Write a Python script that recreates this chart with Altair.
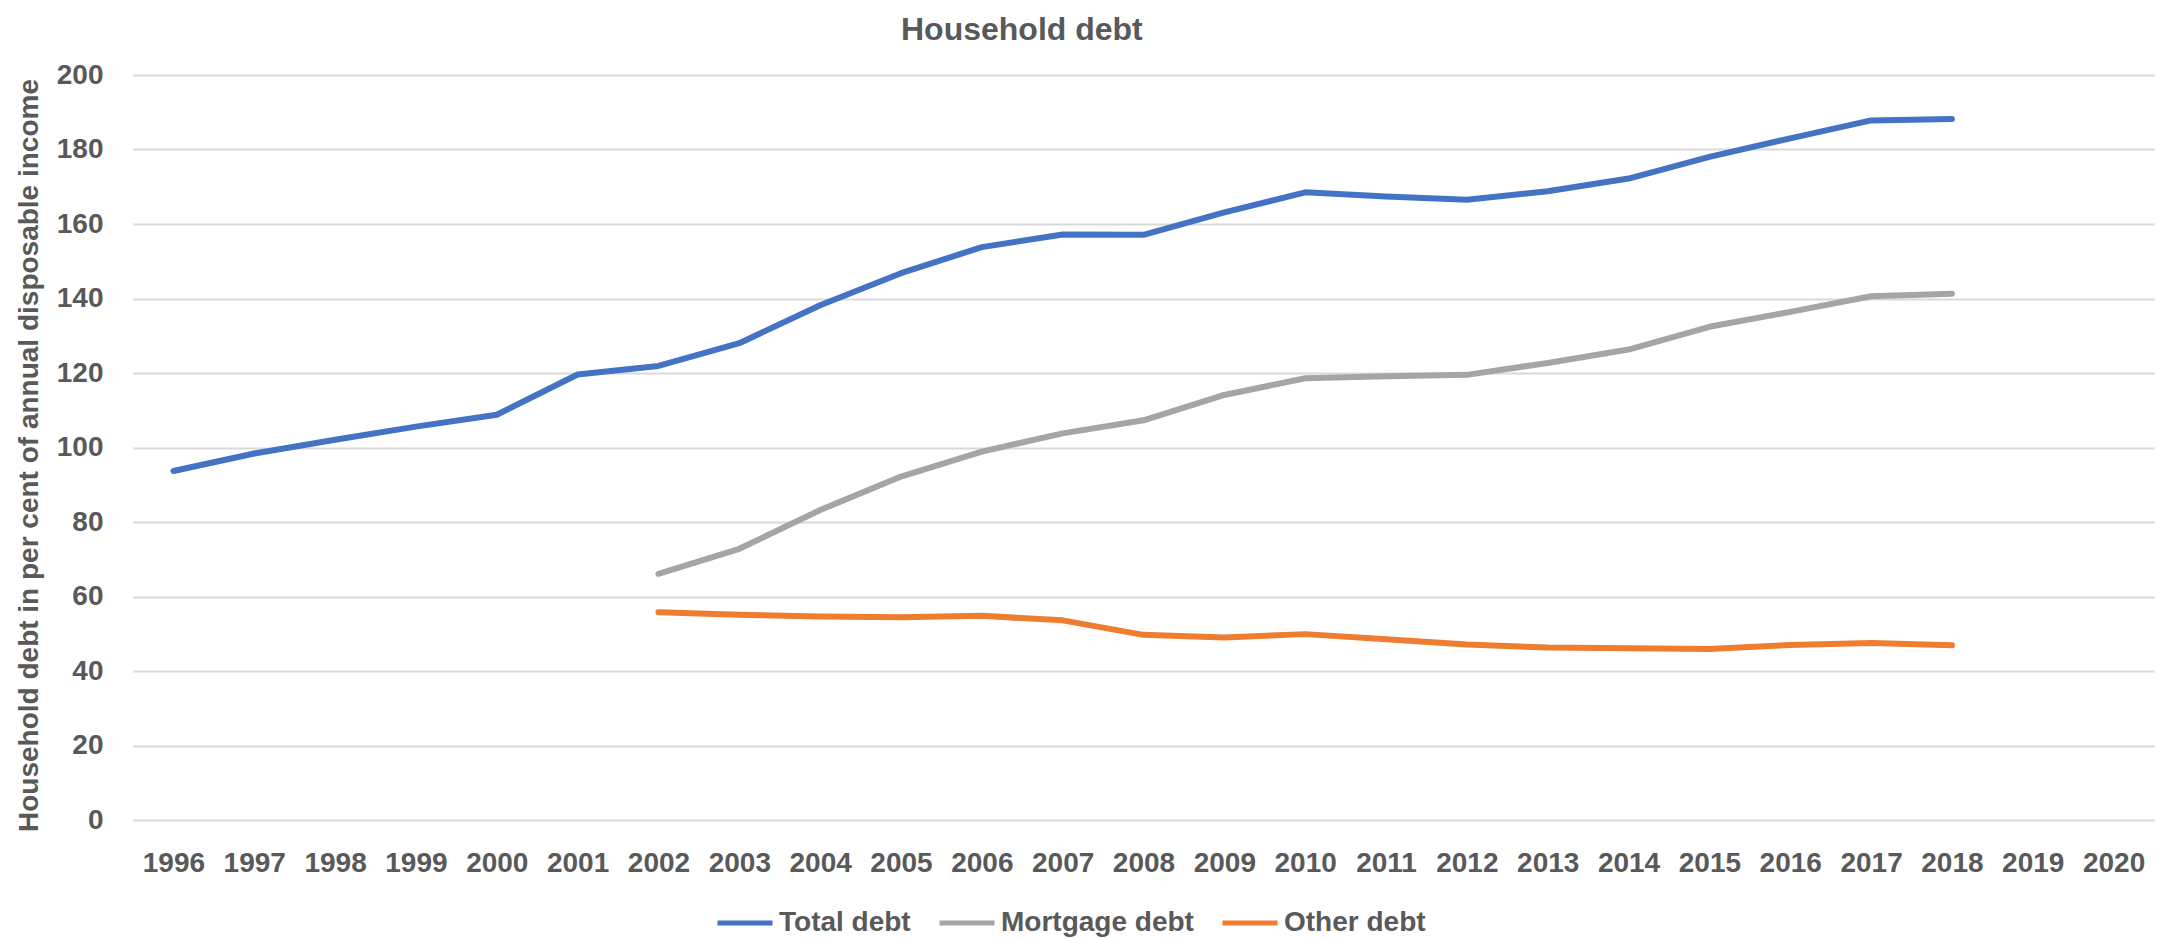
import altair as alt
import pandas as pd

years = list(range(1996, 2021))
year_labels = [str(y) for y in years]

total_years = list(range(1996, 2019))
total_debt = [93.7, 98.4, 102.1, 105.6, 108.8, 119.6, 121.9, 128.0, 138.2, 146.8,
              153.8, 157.2, 157.1, 163.1, 168.5, 167.4, 166.5, 168.8, 172.2, 178.0,
              183.0, 187.8, 188.2]

sub_years = list(range(2002, 2019))
mortgage_debt = [66.1, 72.8, 83.2, 92.2, 98.9, 103.8, 107.3, 114.1, 118.6, 119.1,
                 119.5, 122.7, 126.3, 132.4, 136.4, 140.6, 141.3]
other_debt = [55.8, 55.1, 54.6, 54.4, 54.8, 53.6, 49.7, 49.0, 49.9, 48.5,
              47.1, 46.3, 46.1, 45.9, 47.0, 47.5, 46.9]

series_names = ["Total debt", "Mortgage debt", "Other debt"]
series_colors = ["#4472C4", "#A5A5A5", "#ED7D31"]
y_ticks = [0, 20, 40, 60, 80, 100, 120, 140, 160, 180, 200]

rows = []
for y, v in zip(total_years, total_debt):
    rows.append({"year": str(y), "value": v, "series": "Total debt"})
for y, v in zip(sub_years, mortgage_debt):
    rows.append({"year": str(y), "value": v, "series": "Mortgage debt"})
for y, v in zip(sub_years, other_debt):
    rows.append({"year": str(y), "value": v, "series": "Other debt"})
df = pd.DataFrame(rows)

FONT = "Liberation Sans"
TXT = "#595959"

chart = alt.Chart(df).mark_line(strokeWidth=6, strokeCap="round", strokeJoin="round").encode(
    x=alt.X("year:O",
            scale=alt.Scale(type="point", domain=year_labels, padding=0.5),
            axis=alt.Axis(title=None, labelAngle=0, domain=False, ticks=False, grid=False,
                          labelFont=FONT, labelFontSize=28, labelFontWeight="bold",
                          labelColor=TXT, labelPadding=29)),
    y=alt.Y("value:Q",
            scale=alt.Scale(domain=[0, 200], nice=False),
            axis=alt.Axis(values=y_ticks, title="Household debt in per cent of annual disposable income",
                          domain=False, ticks=False, grid=True, gridColor="#D9D9D9", gridWidth=2,
                          labelFont=FONT, labelFontSize=28, labelFontWeight="bold",
                          labelColor=TXT, labelPadding=30,
                          titleFont=FONT, titleFontSize=28, titleFontWeight="bold",
                          titleColor=TXT, titleAngle=270, titleX=-104, titleY=380,
                          titleAlign="center", titleBaseline="middle")),
    color=alt.Color("series:N",
                    scale=alt.Scale(domain=series_names, range=series_colors),
                    legend=alt.Legend(title=None, orient="none", direction="horizontal",
                                      legendX=582, legendY=818,
                                      symbolType="stroke", symbolSize=3025, symbolStrokeWidth=5,
                                      labelFont=FONT, labelFontSize=28, labelFontWeight="bold",
                                      labelColor=TXT, labelOffset=4, columnPadding=18,
                                      labelLimit=500, padding=0)),
    detail="series:N",
).properties(
    width=2021,
    height=745,
    padding={"left": 125, "top": 67, "right": 8, "bottom": 120},
    autosize=alt.AutoSizeParams(type="none"),
    title=alt.Title("Household debt", font=FONT, fontSize=32, fontWeight="bold", color=TXT,
                    anchor="start", frame="group", dx=768, offset=14),
).configure_view(stroke=None)

chart.save("out.html", embed_options={"renderer": "svg", "actions": False})
